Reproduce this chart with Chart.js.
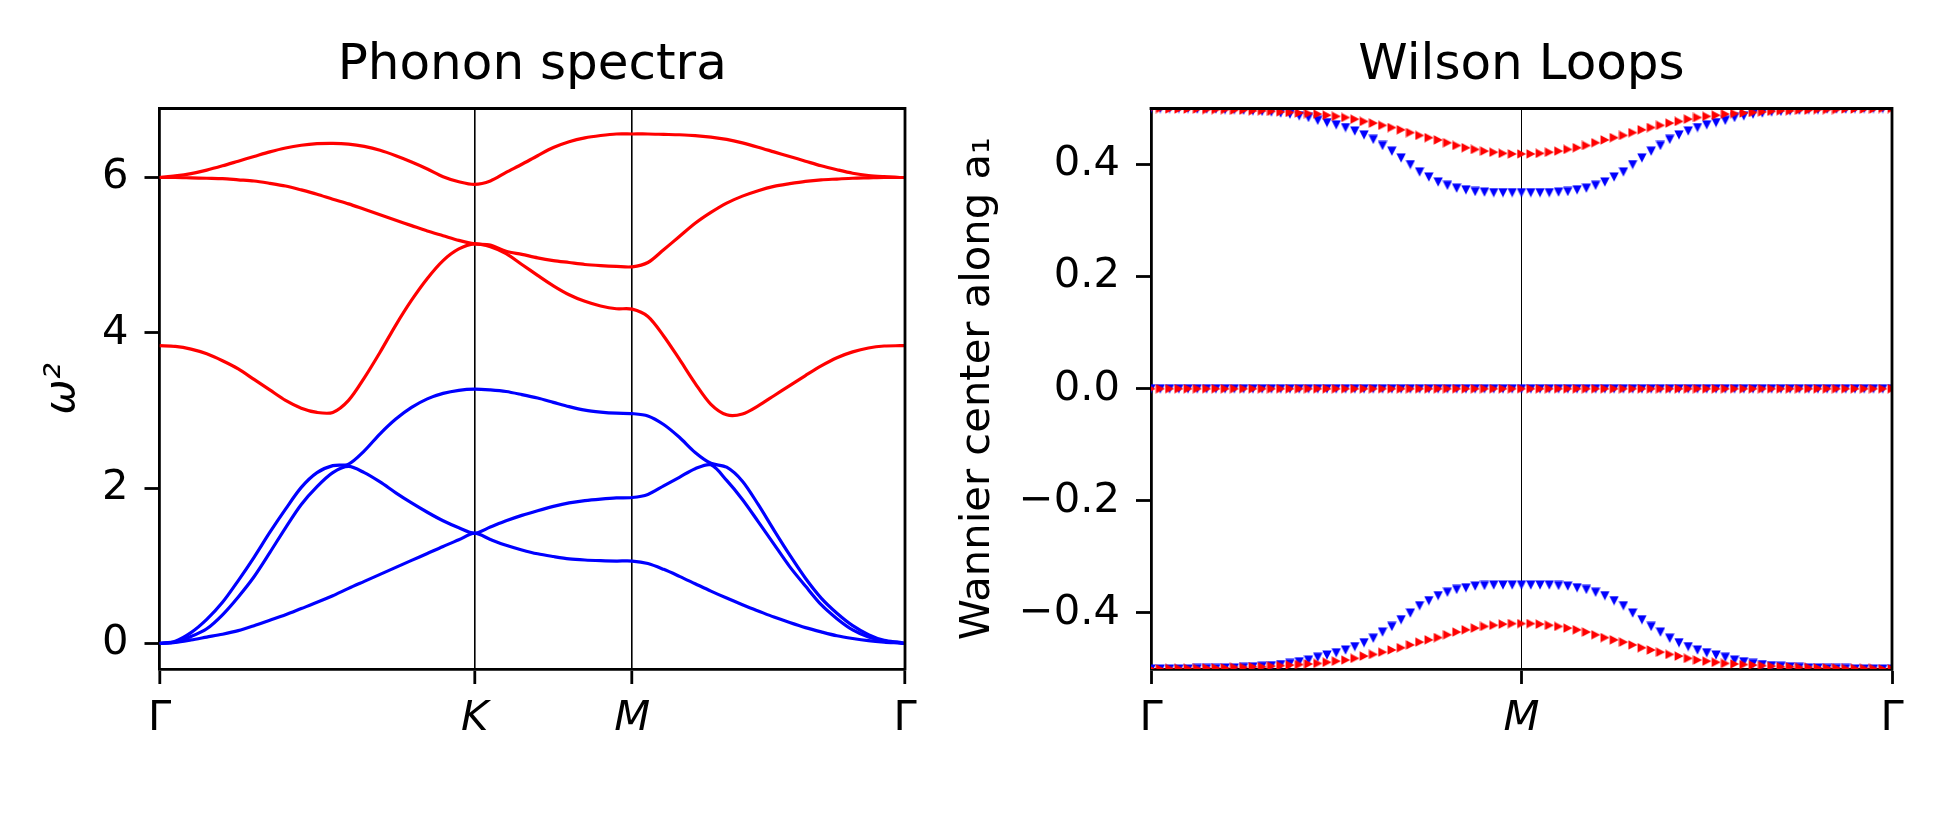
<!DOCTYPE html>
<html>
<head>
<meta charset="utf-8">
<title>Phonon spectra / Wilson Loops</title>
<script src="https://cdn.jsdelivr.net/npm/chart.js@4.4.1/dist/chart.umd.min.js"></script>
<style>
  html, body { margin: 0; padding: 0; background: #fff; }
  #wrap { position: relative; width: 1950px; height: 840px; overflow: hidden; background: #fff; }
  canvas { position: absolute; top: 0; }
  #phonon { left: 0; }
  #wilson { left: 940px; }
</style>
</head>
<body>
<div id="wrap">
  <canvas id="phonon" width="940" height="840"></canvas>
  <canvas id="wilson" width="1010" height="840"></canvas>
</div>
<script>
// ---- phonon spectra: path G-K-M-G, distance in units of |GK| ----
const pathTicks = [0, 1, 1.5, 2.366];
const pathLabels = ['Γ', 'K', 'M', 'Γ'];
const omegaTicks = [0, 2, 4, 6];

const kPath = [0, 0.05, 0.1, 0.15, 0.2, 0.25, 0.3, 0.35, 0.4, 0.45, 0.5, 0.55, 0.6, 0.65, 0.7, 0.75, 0.8, 0.85, 0.9, 0.95, 1.0,
  1.05, 1.1, 1.15, 1.2, 1.25, 1.3, 1.35, 1.4, 1.45, 1.5,
  1.55, 1.6, 1.65, 1.7, 1.75, 1.8, 1.85, 1.9, 1.95, 2.0, 2.05, 2.1, 2.15, 2.2, 2.25, 2.3, 2.35, 2.366];

// acoustic-like bands (blue)
const band1 = [0, 0.014, 0.046, 0.083, 0.12, 0.166, 0.23, 0.30, 0.37, 0.45, 0.53, 0.615, 0.71, 0.80, 0.89, 0.98, 1.07, 1.16, 1.25, 1.335, 1.42,
  1.34, 1.265, 1.205, 1.155, 1.12, 1.09, 1.075, 1.067, 1.062, 1.062,
  1.03, 0.955, 0.865, 0.77, 0.675, 0.585, 0.50, 0.42, 0.34, 0.27, 0.205, 0.15, 0.10, 0.065, 0.037, 0.018, 0.005, 0];
const band2 = [0, 0.02, 0.09, 0.19, 0.37, 0.60, 0.86, 1.17, 1.49, 1.79, 2.02, 2.20, 2.28, 2.20, 2.08, 1.94, 1.81, 1.69, 1.58, 1.49, 1.42,
  1.50, 1.58, 1.65, 1.71, 1.765, 1.81, 1.84, 1.86, 1.875, 1.88,
  1.92, 2.03, 2.14, 2.25, 2.30, 2.10, 1.855, 1.57, 1.28, 0.99, 0.74, 0.50, 0.32, 0.175, 0.083, 0.032, 0.01, 0];
const band3 = [0, 0.03, 0.14, 0.31, 0.53, 0.81, 1.11, 1.43, 1.73, 2.01, 2.20, 2.29, 2.31, 2.48, 2.70, 2.89, 3.04, 3.15, 3.22, 3.26, 3.275,
  3.265, 3.245, 3.205, 3.16, 3.105, 3.05, 3.005, 2.98, 2.965, 2.96,
  2.93, 2.82, 2.655, 2.46, 2.32, 2.27, 2.09, 1.79, 1.46, 1.14, 0.84, 0.585, 0.39, 0.23, 0.115, 0.04, 0.014, 0];
// optical-like bands (red)
const band4 = [3.834, 3.825, 3.79, 3.73, 3.64, 3.535, 3.40, 3.265, 3.13, 3.03, 2.975, 2.975, 3.13, 3.42, 3.75, 4.10, 4.42, 4.70, 4.93, 5.08, 5.145,
  5.11, 5.02, 4.88, 4.74, 4.605, 4.49, 4.405, 4.345, 4.31, 4.305,
  4.21, 3.96, 3.66, 3.35, 3.08, 2.945, 2.955, 3.06, 3.19, 3.32, 3.45, 3.575, 3.68, 3.755, 3.805, 3.83, 3.834, 3.834];
const band5 = [6.0, 6.0, 5.995, 5.99, 5.985, 5.97, 5.955, 5.925, 5.89, 5.84, 5.785, 5.72, 5.66, 5.59, 5.52, 5.45, 5.38, 5.31, 5.25, 5.19, 5.145,
  5.13, 5.05, 5.01, 4.965, 4.93, 4.905, 4.88, 4.865, 4.855, 4.85,
  4.905, 5.07, 5.24, 5.41, 5.55, 5.67, 5.76, 5.83, 5.885, 5.92, 5.95, 5.97, 5.98, 5.99, 5.995, 6.0, 6.0, 6.0];
const band6 = [6.0, 6.02, 6.05, 6.095, 6.15, 6.21, 6.27, 6.33, 6.38, 6.415, 6.435, 6.44, 6.43, 6.40, 6.35, 6.28, 6.20, 6.11, 6.01, 5.945, 5.91,
  5.955, 6.065, 6.17, 6.28, 6.385, 6.46, 6.51, 6.54, 6.56, 6.56,
  6.56, 6.555, 6.55, 6.54, 6.52, 6.49, 6.445, 6.39, 6.33, 6.27, 6.21, 6.15, 6.10, 6.055, 6.025, 6.01, 6.0, 6.0];

// ---- Wilson loops: path G-M-G ----
const loopTicks = [0, 1, 2];
const loopLabels = ['Γ', 'M', 'Γ'];
const wccTicks = [-0.4, -0.2, 0, 0.2, 0.4];
const wccLabels = ['−0.4', '−0.2', '0.0', '0.2', '0.4'];

const kLoop = [0, 0.025, 0.05, 0.075, 0.1, 0.125, 0.15, 0.175, 0.2, 0.225, 0.25, 0.275, 0.3, 0.325, 0.35, 0.375, 0.4, 0.425, 0.45, 0.475,
  0.5, 0.525, 0.55, 0.575, 0.6, 0.625, 0.65, 0.675, 0.7, 0.725, 0.75, 0.775, 0.8, 0.825, 0.85, 0.875, 0.9, 0.925, 0.95, 0.975,
  1, 1.025, 1.05, 1.075, 1.1, 1.125, 1.15, 1.175, 1.2, 1.225, 1.25, 1.275, 1.3, 1.325, 1.35, 1.375, 1.4, 1.425, 1.45, 1.475,
  1.5, 1.525, 1.55, 1.575, 1.6, 1.625, 1.65, 1.675, 1.7, 1.725, 1.75, 1.775, 1.8, 1.825, 1.85, 1.875, 1.9, 1.925, 1.95, 1.975,
  2];
const redUpper = [0.500, 0.500, 0.499, 0.499, 0.499, 0.499, 0.498, 0.498, 0.498, 0.497, 0.497, 0.496, 0.496, 0.495, 0.494, 0.493, 0.492, 0.491, 0.490, 0.488,
  0.486, 0.484, 0.481, 0.477, 0.474, 0.470, 0.466, 0.462, 0.457, 0.452, 0.448, 0.444, 0.439, 0.434, 0.430, 0.427, 0.424, 0.422, 0.420, 0.419,
  0.419, 0.419, 0.420, 0.422, 0.424, 0.427, 0.430, 0.434, 0.439, 0.444, 0.448, 0.452, 0.457, 0.462, 0.466, 0.470, 0.474, 0.477, 0.481, 0.484,
  0.486, 0.488, 0.490, 0.491, 0.492, 0.493, 0.494, 0.495, 0.496, 0.496, 0.497, 0.497, 0.498, 0.498, 0.498, 0.499, 0.499, 0.499, 0.499, 0.500,
  0.500];
const redLower = [-0.500, -0.500, -0.499, -0.499, -0.499, -0.499, -0.498, -0.498, -0.498, -0.497, -0.497, -0.496, -0.496, -0.495, -0.494, -0.493, -0.492, -0.491, -0.490, -0.488,
  -0.486, -0.484, -0.481, -0.477, -0.474, -0.470, -0.466, -0.462, -0.457, -0.452, -0.448, -0.444, -0.439, -0.434, -0.430, -0.427, -0.424, -0.422, -0.420, -0.419,
  -0.419, -0.419, -0.420, -0.422, -0.424, -0.427, -0.430, -0.434, -0.439, -0.444, -0.448, -0.452, -0.457, -0.462, -0.466, -0.470, -0.474, -0.477, -0.481, -0.484,
  -0.486, -0.488, -0.490, -0.491, -0.492, -0.493, -0.494, -0.495, -0.496, -0.496, -0.497, -0.497, -0.498, -0.498, -0.498, -0.499, -0.499, -0.499, -0.499, -0.500,
  -0.500];
const blueUpper = [0.500, 0.500, 0.500, 0.500, 0.500, 0.499, 0.499, 0.499, 0.498, 0.498, 0.497, 0.496, 0.495, 0.494, 0.492, 0.490, 0.487, 0.484, 0.479, 0.475,
  0.471, 0.466, 0.460, 0.453, 0.445, 0.434, 0.424, 0.412, 0.400, 0.387, 0.378, 0.369, 0.363, 0.358, 0.355, 0.352, 0.351, 0.350, 0.350, 0.350,
  0.350, 0.350, 0.350, 0.350, 0.351, 0.352, 0.355, 0.358, 0.363, 0.369, 0.378, 0.387, 0.400, 0.412, 0.424, 0.434, 0.445, 0.453, 0.460, 0.466,
  0.471, 0.475, 0.479, 0.484, 0.487, 0.490, 0.492, 0.494, 0.495, 0.496, 0.497, 0.498, 0.498, 0.499, 0.499, 0.499, 0.500, 0.500, 0.500, 0.500,
  0.500];
const blueLower = [-0.500, -0.500, -0.500, -0.500, -0.500, -0.499, -0.499, -0.499, -0.498, -0.498, -0.497, -0.496, -0.495, -0.494, -0.492, -0.490, -0.487, -0.484, -0.479, -0.475,
  -0.471, -0.466, -0.460, -0.453, -0.445, -0.434, -0.424, -0.412, -0.400, -0.387, -0.378, -0.369, -0.363, -0.358, -0.355, -0.352, -0.351, -0.350, -0.350, -0.350,
  -0.350, -0.350, -0.350, -0.350, -0.351, -0.352, -0.355, -0.358, -0.363, -0.369, -0.378, -0.387, -0.400, -0.412, -0.424, -0.434, -0.445, -0.453, -0.460, -0.466,
  -0.471, -0.475, -0.479, -0.484, -0.487, -0.490, -0.492, -0.494, -0.495, -0.496, -0.497, -0.498, -0.498, -0.499, -0.499, -0.499, -0.500, -0.500, -0.500, -0.500,
  -0.500];
const zeroLine = [0, 0, 0, 0, 0, 0, 0, 0, 0, 0, 0, 0, 0, 0, 0, 0, 0, 0, 0, 0,
  0, 0, 0, 0, 0, 0, 0, 0, 0, 0, 0, 0, 0, 0, 0, 0, 0, 0, 0, 0,
  0, 0, 0, 0, 0, 0, 0, 0, 0, 0, 0, 0, 0, 0, 0, 0, 0, 0, 0, 0,
  0, 0, 0, 0, 0, 0, 0, 0, 0, 0, 0, 0, 0, 0, 0, 0, 0, 0, 0, 0,
  0];

const RED = '#ff0000';
const BLUE = '#0000ff';
const FONT = 'DejaVu Sans';
const TICK_PX = 41.7;
const SPINE = 2.8;

Chart.defaults.font.family = FONT;
Chart.defaults.color = '#000';

function pairs(xs, ys) {
  return xs.map((x, i) => ({ x: x, y: ys[i] }));
}

// matplotlib-like triangle glyphs ('v' and '>'), same width and height
function triangleGlyph(color, dir) {
  const s = 10;
  const c = document.createElement('canvas');
  c.width = s; c.height = s;
  const g = c.getContext('2d');
  g.fillStyle = color;
  g.beginPath();
  if (dir === 'down') {
    g.moveTo(0.3, 0.6); g.lineTo(s - 0.3, 0.6); g.lineTo(s / 2, s - 0.3);
  } else {
    g.moveTo(0.6, 0.3); g.lineTo(s - 0.3, s / 2); g.lineTo(0.6, s - 0.3);
  }
  g.closePath();
  g.fill();
  return c;
}

// top + right spines (left/bottom come from the axes)
const frame = {
  id: 'frame',
  afterDraw(chart) {
    const a = chart.chartArea;
    const ctx = chart.ctx;
    ctx.save();
    ctx.strokeStyle = '#000';
    ctx.lineWidth = SPINE;
    ctx.lineCap = 'square';
    ctx.beginPath();
    ctx.moveTo(a.left, a.top);
    ctx.lineTo(a.right, a.top);
    ctx.lineTo(a.right, a.bottom);
    ctx.stroke();
    ctx.restore();
  }
};

function pathAxis(max, ticks, labels, lineW) {
  return {
    type: 'linear', min: 0, max: max, z: 1,
    afterBuildTicks: s => { s.ticks = ticks.map(v => ({ value: v })); },
    afterFit: s => { s.height = 171; },
    ticks: {
      autoSkip: false, maxRotation: 0, padding: 10, color: '#000',
      callback: (v, i) => labels[i],
      font: c => ({ family: FONT, size: TICK_PX, style: (labels[c.index] === 'K' || labels[c.index] === 'M') ? 'italic' : 'normal' })
    },
    grid: {
      color: c => (c.index > 0 && c.index < ticks.length - 1) ? '#000' : 'rgba(0,0,0,0)',
      lineWidth: lineW, tickColor: '#000', tickWidth: SPINE, tickLength: 15
    },
    border: { color: '#000', width: SPINE }
  };
}

function valueAxis(min, max, ticks, labelFn, width, title, titleStyle, titlePad) {
  return {
    type: 'linear', min: min, max: max, z: 1,
    afterBuildTicks: s => { s.ticks = ticks.map(v => ({ value: v })); },
    afterFit: s => { s.width = width; },
    ticks: { padding: 16, color: '#000', font: { family: FONT, size: TICK_PX }, callback: labelFn },
    grid: { drawOnChartArea: false, tickColor: '#000', tickWidth: SPINE, tickLength: 15 },
    border: { color: '#000', width: SPINE },
    title: {
      display: true, text: title, color: '#000',
      font: { family: FONT, size: TICK_PX, style: titleStyle },
      padding: { top: titlePad, bottom: 0 }
    }
  };
}

function titleOpts(text) {
  return {
    display: true, text: text, fullSize: false, color: '#000',
    font: { family: FONT, size: 50, weight: 'normal' },
    padding: { top: 36, bottom: 12.5 }
  };
}

// ---- left panel ----
const blueBands = [band1, band2, band3];
const redBands = [band4, band5, band6];
const phononSets = [];
redBands.forEach(b => phononSets.push({ data: pairs(kPath, b), borderColor: RED }));
blueBands.forEach(b => phononSets.push({ data: pairs(kPath, b), borderColor: BLUE }));
phononSets.forEach(d => {
  d.showLine = true;
  d.borderWidth = 3.2;
  d.pointRadius = 0;
  d.tension = 0.3;
  d.clip = 0;
});

new Chart(document.getElementById('phonon'), {
  type: 'scatter',
  data: { datasets: phononSets },
  options: {
    responsive: false, animation: false, devicePixelRatio: 1,
    layout: { padding: { left: 0, right: 35, top: 0, bottom: 0 } },
    plugins: {
      legend: { display: false }, tooltip: { enabled: false },
      title: titleOpts('Phonon spectra')
    },
    scales: {
      x: pathAxis(2.366, pathTicks, pathLabels, 1.6),
      y: valueAxis(-0.328, 6.888, omegaTicks, v => String(v), 159.5, 'ω²', 'italic', 38.6)
    }
  },
  plugins: [frame]
});

// ---- right panel ----
const redGlyph = triangleGlyph(RED, 'right');
const blueGlyph = triangleGlyph(BLUE, 'down');

function markers(ys, color, glyph) {
  return {
    data: pairs(kLoop, ys), showLine: false,
    pointStyle: glyph, pointRadius: 5,
    pointBackgroundColor: color, pointBorderColor: color,
    backgroundColor: color, borderColor: color, clip: 0
  };
}

new Chart(document.getElementById('wilson'), {
  type: 'scatter',
  data: {
    datasets: [
      markers(redUpper, RED, redGlyph), markers(zeroLine, RED, redGlyph), markers(redLower, RED, redGlyph),
      markers(blueUpper, BLUE, blueGlyph), markers(zeroLine, BLUE, blueGlyph), markers(blueLower, BLUE, blueGlyph)
    ]
  },
  options: {
    responsive: false, animation: false, devicePixelRatio: 1,
    layout: { padding: { left: 0, right: 58, top: 0, bottom: 0 } },
    plugins: {
      legend: { display: false }, tooltip: { enabled: false },
      title: titleOpts('Wilson Loops')
    },
    scales: {
      x: pathAxis(2, loopTicks, loopLabels, 1),
      y: valueAxis(-0.5, 0.5, wccTicks, (v, i) => wccLabels[i], 211, 'Wannier center along a₁', 'normal', 13.6)
    }
  },
  plugins: [frame]
});
</script>
</body>
</html>
